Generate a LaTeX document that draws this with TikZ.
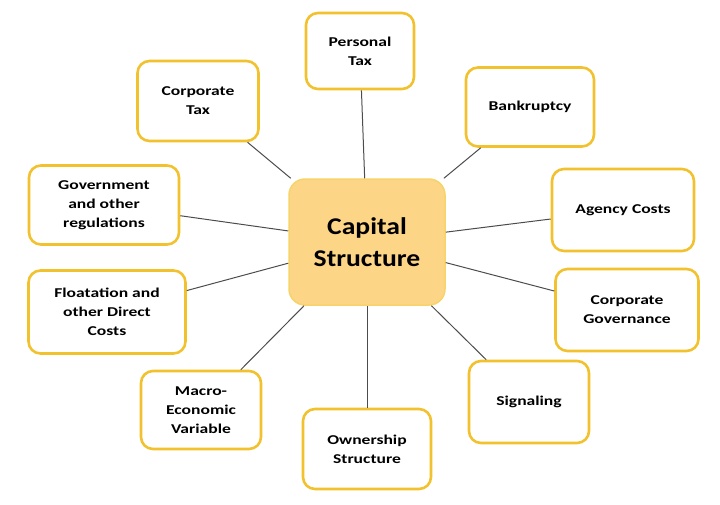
\documentclass[tikz,border=0pt]{standalone}
\usepackage{fontspec}
\setmainfont{Carlito}
\newfontfamily\boxfont[FakeStretch=1.3]{Carlito}
\newfontfamily\capfont[FakeStretch=1.15]{Carlito}
\usetikzlibrary{positioning}
\definecolor{boxline}{HTML}{F2C12E}
\definecolor{capfill}{HTML}{FDD587}
\definecolor{capline}{HTML}{F7D36A}
\tikzset{
  factor/.style={draw=boxline,line width=2.6pt,rounded corners=12pt,fill=white,
    align=center,font=\boxfont\bfseries\fontsize{13.5}{19}\selectfont,inner sep=2pt},
  capbox/.style={draw=capline,line width=1.5pt,rounded corners=16pt,fill=capfill,
    align=center,font=\capfont\bfseries\fontsize{24}{32}\selectfont,
    minimum width=156pt,minimum height=126pt},
  link/.style={draw=black!70,line width=1pt}
}
\begin{document}
\begin{tikzpicture}[x=1pt,y=-1pt]
  \useasboundingbox (0,0) rectangle (720,504);
  \node[capbox] (cap) at (367,242) {Capital\\Structure};
  % factors round the centre
  \node[factor,minimum width=108pt,minimum height=76pt] (ptax) at (360,51) {Personal\\Tax};
  \node[factor,minimum width=121pt,minimum height=80pt] (ctax) at (198,101) {Corporate\\Tax};
  \node[factor,minimum width=128pt,minimum height=79pt] (bank) at (530,107) {Bankruptcy};
  \node[factor,minimum width=150pt,minimum height=79pt] (gov) at (104,205) {Government\\and other\\regulations};
  \node[factor,minimum width=142pt,minimum height=82pt] (agency) at (623,210) {Agency Costs};
  \node[factor,minimum width=157pt,minimum height=83pt] (float) at (107,312) {Floatation and\\other Direct\\Costs};
  \node[factor,minimum width=143pt,minimum height=82pt] (cgov) at (627,310) {Corporate\\Governance};
  \node[factor,minimum width=120pt,minimum height=78pt] (macro) at (201,410) {Macro-\\Economic\\Variable};
  \node[factor,minimum width=120pt,minimum height=82pt] (signal) at (529,402) {Signaling};
  \node[factor,minimum width=128pt,minimum height=80pt] (own) at (367,449) {Ownership\\Structure};
  % connectors
  \draw[link] (ptax) -- (cap);
  \draw[link] (ctax) -- (cap);
  \draw[link] (bank) -- (cap);
  \draw[link] (gov) -- (cap);
  \draw[link] (agency) -- (cap);
  \draw[link] (float) -- (cap);
  \draw[link] (cgov) -- (cap);
  \draw[link] (macro) -- (cap);
  \draw[link] (signal) -- (cap);
  \draw[link] (own) -- (cap);
\end{tikzpicture}
\end{document}
